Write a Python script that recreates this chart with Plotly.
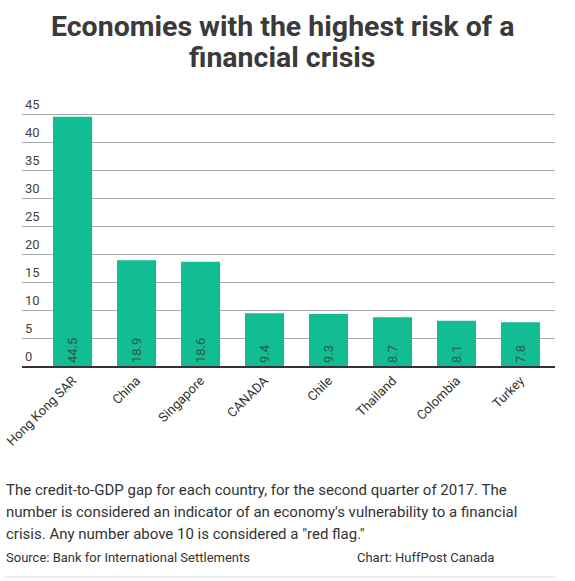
import plotly.graph_objects as go

countries = ["Hong Kong SAR", "China", "Singapore", "CANADA", "Chile", "Thailand", "Colombia", "Turkey"]
gap_values = [44.5, 18.9, 18.6, 9.4, 9.3, 8.7, 8.1, 7.8]
y_ticks = [0, 5, 10, 15, 20, 25, 30, 35, 40, 45]

title_lines = ["Economies with the highest risk of a", "financial crisis"]
caption_lines = [
    "The credit-to-GDP gap for each country, for the second quarter of 2017. The",
    "number is considered an indicator of an economy's vulnerability to a financial",
    "crisis. Any number above 10 is considered a \"red flag.\"",
]
source_text = "Source: Bank for International Settlements"
credit_text = "Chart: HuffPost Canada"

W, H = 575, 581
L, R, T, B = 22, 20, 80, 215
PW = W - L - R
PH = H - T - B
PX_PER_UNIT = 252 / 45.0
Y_TOP = PH / PX_PER_UNIT

def px(x):
    return (x - L) / PW

def py(y):
    return (H - B - y) / PH

fig = go.Figure(
    go.Bar(
        x=countries,
        y=gap_values,
        marker=dict(color="#13bd93", line=dict(width=0)),
        text=[f"{v:.1f}" for v in gap_values],
        textposition="inside",
        insidetextanchor="start",
        textangle=-90,
        textfont=dict(family="Roboto", size=13, color="#2f574c"),
        cliponaxis=False,
        hoverinfo="x+y",
    )
)

fig.update_layout(
    width=W,
    height=H,
    margin=dict(l=L, r=R, t=T, b=B, pad=0, autoexpand=False),
    paper_bgcolor="white",
    plot_bgcolor="white",
    bargap=0.39,
    showlegend=False,
    font=dict(family="Roboto", color="#333333"),
)

fig.update_xaxes(
    type="category",
    range=[-0.79, 7.54],
    tickangle=-45,
    tickfont=dict(family="Roboto", size=13, color="#333333"),
    showline=True,
    linecolor="#333333",
    linewidth=2,
    showgrid=False,
    ticks="",
    automargin=False,
)

fig.update_yaxes(
    range=[0, Y_TOP],
    tickvals=y_ticks,
    ticktext=[str(v) for v in y_ticks],
    ticklabelposition="inside top",
    tickfont=dict(family="Roboto", size=13, color="#444444"),
    showgrid=True,
    gridcolor="#aaaaaa",
    gridwidth=1,
    zeroline=False,
    showline=False,
    ticks="",
    automargin=False,
)

annotations = []
title_y = [27, 57]
for line, yy in zip(title_lines, title_y):
    annotations.append(dict(
        text=line, xref="paper", yref="paper", x=px(282), y=py(yy),
        xanchor="center", yanchor="middle", showarrow=False,
        font=dict(family="Roboto", size=28.5, color="#3a3a3a", weight="bold"),
    ))

cap_y = [490, 512, 534]
for line, yy in zip(caption_lines, cap_y):
    annotations.append(dict(
        text=line, xref="paper", yref="paper", x=px(4), y=py(yy),
        xanchor="left", yanchor="middle", showarrow=False,
        font=dict(family="Roboto", size=15, color="#333333"),
    ))

annotations.append(dict(
    text=source_text, xref="paper", yref="paper", x=px(4), y=py(557),
    xanchor="left", yanchor="middle", showarrow=False,
    font=dict(family="Roboto", size=13, color="#333333"),
))
annotations.append(dict(
    text=credit_text, xref="paper", yref="paper", x=px(355), y=py(557),
    xanchor="left", yanchor="middle", showarrow=False,
    font=dict(family="Roboto", size=13, color="#333333"),
))

fig.update_layout(annotations=annotations)

fig.add_shape(
    type="line", xref="paper", yref="paper",
    x0=px(5), x1=px(555), y0=py(577), y1=py(577),
    line=dict(color="#dddddd", width=1),
)

fig.write_html(
    "out.html",
    config={"displayModeBar": False},
    post_script="document.body.style.margin='0';document.body.style.padding='0';",
)
